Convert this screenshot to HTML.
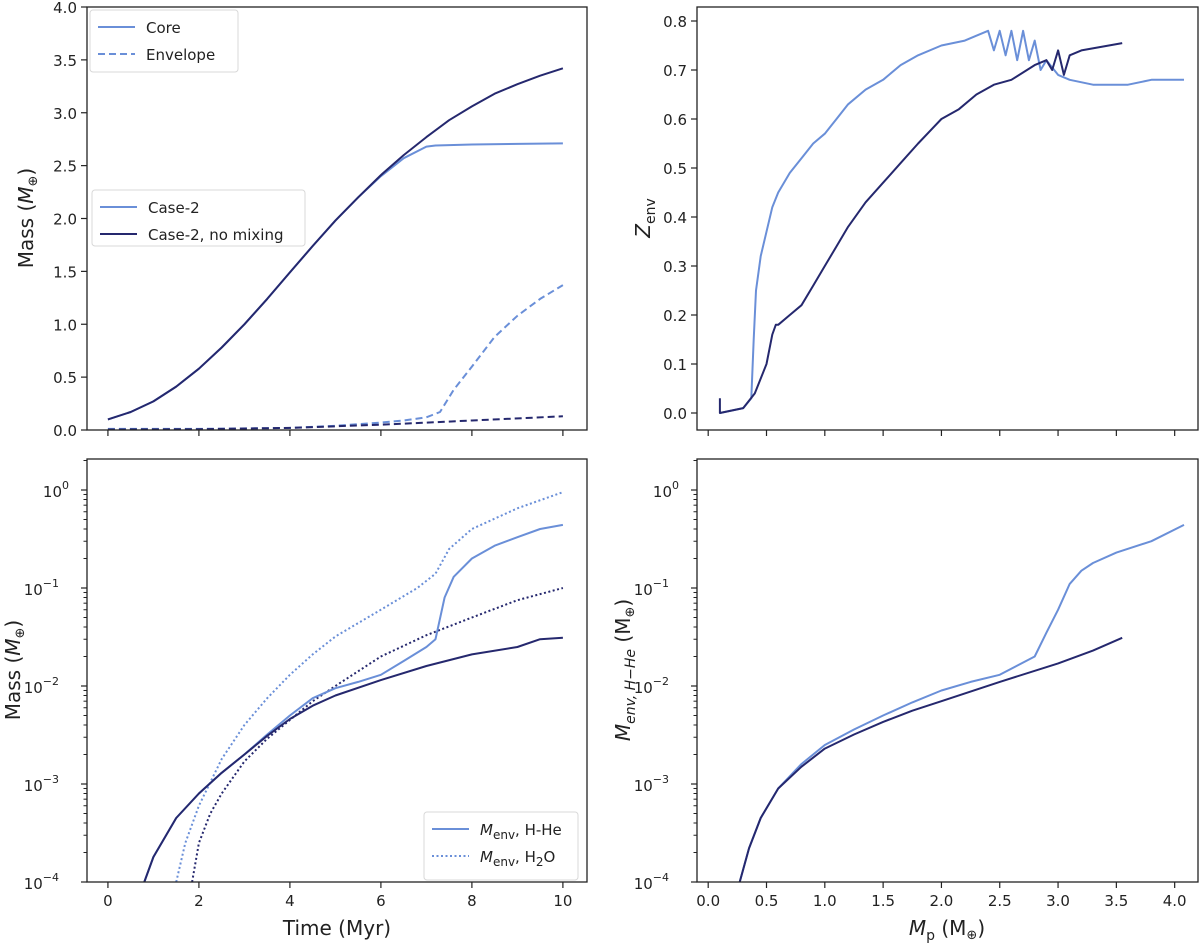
<!DOCTYPE html>
<html><head><meta charset="utf-8"><style>
body{margin:0;background:#fff}
svg{font-family:"DejaVu Sans","Liberation Sans",sans-serif}
</style></head><body>
<svg id="fig" width="1200" height="947" viewBox="0 0 1200 947" xmlns="http://www.w3.org/2000/svg"></svg>
<script>
// ---- data ----
const tCoreDark=[0,0.5,1,1.5,2,2.5,3,3.5,4,4.5,5,5.5,6,6.5,7,7.5,8,8.5,9,9.5,10];
const mCoreDark=[0.1,0.17,0.27,0.41,0.58,0.78,1.0,1.24,1.49,1.74,1.98,2.2,2.41,2.6,2.77,2.93,3.06,3.18,3.27,3.35,3.42];
const tCoreLight=[0,0.5,1,1.5,2,2.5,3,3.5,4,4.5,5,5.5,6,6.5,7,7.2,8,9,10];
const mCoreLight=[0.1,0.17,0.27,0.41,0.58,0.78,1.0,1.24,1.49,1.74,1.98,2.2,2.4,2.57,2.68,2.69,2.7,2.705,2.71];
const tEnvLight=[0,2,4,5,6,6.5,7,7.3,7.6,8,8.5,9,9.5,10];
const mEnvLight=[0.01,0.01,0.02,0.04,0.07,0.09,0.12,0.17,0.38,0.6,0.88,1.08,1.24,1.37];
const tEnvDark=[0,2,4,6,8,10];
const mEnvDark=[0.005,0.008,0.02,0.05,0.09,0.13];

const mpZLight=[0.1,0.3,0.37,0.39,0.41,0.45,0.5,0.55,0.6,0.7,0.8,0.9,1.0,1.1,1.2,1.35,1.5,1.65,1.8,2.0,2.2,2.3,2.4,2.45,2.5,2.55,2.6,2.65,2.7,2.75,2.8,2.85,2.9,3.0,3.1,3.3,3.6,3.8,4.08];
const zLight=[0.0,0.01,0.03,0.15,0.25,0.32,0.37,0.42,0.45,0.49,0.52,0.55,0.57,0.6,0.63,0.66,0.68,0.71,0.73,0.75,0.76,0.77,0.78,0.74,0.78,0.73,0.78,0.72,0.78,0.72,0.76,0.7,0.72,0.69,0.68,0.67,0.67,0.68,0.68];
const mpZDark=[0.1,0.1,0.3,0.4,0.5,0.55,0.58,0.6,0.7,0.8,0.9,1.0,1.1,1.2,1.35,1.5,1.65,1.8,2.0,2.15,2.3,2.45,2.6,2.8,2.9,2.95,3.0,3.05,3.1,3.2,3.55];
const zDark=[0.03,0.0,0.01,0.04,0.1,0.16,0.18,0.18,0.2,0.22,0.26,0.3,0.34,0.38,0.43,0.47,0.51,0.55,0.6,0.62,0.65,0.67,0.68,0.71,0.72,0.7,0.74,0.69,0.73,0.74,0.755];

const tHHeLight=[0.8,1,1.5,2,2.5,3,3.5,4,4.5,5,5.5,6,6.5,7,7.2,7.4,7.6,8,8.5,9,9.5,10];
const mHHeLight=[1e-4,1.8e-4,4.5e-4,8e-4,1.3e-3,2e-3,3.2e-3,5e-3,7.5e-3,9.5e-3,1.1e-2,1.3e-2,1.8e-2,2.5e-2,3e-2,8e-2,1.3e-1,2e-1,2.7e-1,3.3e-1,4e-1,4.4e-1];
const tHHeDark=[0.8,1,1.5,2,2.5,3,3.5,4,4.5,5,6,7,8,9,9.5,10];
const mHHeDark=[1e-4,1.8e-4,4.5e-4,8e-4,1.3e-3,2e-3,3.1e-3,4.6e-3,6.3e-3,8e-3,1.15e-2,1.6e-2,2.1e-2,2.5e-2,3e-2,3.1e-2];
const tH2OLight=[1.5,1.7,2,2.5,3,3.5,4,4.5,5,6,6.8,7.2,7.5,8,9,10];
const mH2OLight=[1e-4,2.5e-4,6e-4,1.8e-3,4e-3,7.5e-3,1.3e-2,2.1e-2,3.2e-2,6e-2,1e-1,1.4e-1,2.5e-1,4e-1,6.5e-1,9.5e-1];
const tH2ODark=[1.85,2,2.25,2.5,3,3.5,4,4.5,5,6,7,8,9,10];
const mH2ODark=[1e-4,2.5e-4,5e-4,8e-4,1.7e-3,2.9e-3,4.5e-3,7e-3,1e-2,2e-2,3.3e-2,5e-2,7.5e-2,1e-1];

const mpELight=[0.27,0.35,0.45,0.6,0.8,1.0,1.25,1.5,1.75,2.0,2.25,2.5,2.8,2.9,3.0,3.1,3.2,3.3,3.5,3.8,4.08];
const eLight=[1e-4,2.2e-4,4.5e-4,9e-4,1.6e-3,2.5e-3,3.6e-3,5e-3,6.8e-3,9e-3,1.1e-2,1.3e-2,2e-2,3.5e-2,6e-2,1.1e-1,1.5e-1,1.8e-1,2.3e-1,3e-1,4.4e-1];
const mpEDark=[0.27,0.35,0.45,0.6,0.8,1.0,1.25,1.5,1.75,2.0,2.5,3.0,3.3,3.55];
const eDark=[1e-4,2.2e-4,4.5e-4,9e-4,1.5e-3,2.3e-3,3.2e-3,4.3e-3,5.6e-3,7e-3,1.1e-2,1.7e-2,2.3e-2,3.1e-2];

const tTicks=[0,2,4,6,8,10];
const mTicks=[0,0.5,1,1.5,2,2.5,3,3.5,4];
const mpTicks=[0,0.5,1,1.5,2,2.5,3,3.5,4];
const zTicks=[0,0.1,0.2,0.3,0.4,0.5,0.6,0.7,0.8];
const logTicks=[-4,-3,-2,-1,0];

const LIGHT="#6a8fd8", DARK="#25286e";
const NS="http://www.w3.org/2000/svg";
const svg=document.getElementById('fig');
function mk(tag,attrs,parent){const e=document.createElementNS(NS,tag);for(const k in attrs)e.setAttribute(k,attrs[k]);(parent||svg).appendChild(e);return e;}
function lin(d0,d1,p0,p1){return v=>p0+(v-d0)/(d1-d0)*(p1-p0);}
function logs(d0,d1,p0,p1){return v=>p0+(Math.log10(v)-d0)/(d1-d0)*(p1-p0);}

const A={
 tl:{x0:87,x1:587,y0:7,y1:430},
 tr:{x0:697,x1:1198,y0:7,y1:430},
 bl:{x0:87,x1:587,y0:459,y1:882},
 br:{x0:697,x1:1198,y0:459,y1:882}
};
const xT=lin(-0.46,10.53,87,587);
const xM=lin(-0.096,4.2,697,1198);
const yM=lin(0,4,430,7);
const yZ=lin(0,0.8,413,21);
const yL=logs(-4,0,882,490);

function clip(id,a){const c=mk('clipPath',{id:id});mk('rect',{x:a.x0,y:a.y0,width:a.x1-a.x0,height:a.y1-a.y0},c);}
clip('ctl',A.tl);clip('ctr',A.tr);clip('cbl',A.bl);clip('cbr',A.br);

function line(xs,ys,fx,fy,col,dash,cl,name){
  const d=xs.map((x,i)=>(i?'L':'M')+fx(x).toFixed(1)+','+fy(ys[i]).toFixed(1)).join('');
  const p=mk('path',{d:d,fill:'none',stroke:col,'stroke-width':2,'stroke-linejoin':'round','clip-path':'url(#'+cl+')'});
  if(dash)p.setAttribute('stroke-dasharray',dash);
  
  
}
function txt(x,y,s,anchor,size,extra){const t=mk('text',Object.assign({x:x,y:y,'text-anchor':anchor,'font-size':size,fill:'#222'},extra||{}));t.innerHTML=s;return t;}

function frame(a,name){const r=mk('rect',{x:a.x0,y:a.y0,width:a.x1-a.x0,height:a.y1-a.y0,fill:'none',stroke:'#222','stroke-width':1.3});
  
  }
function xticks(a,ticks,fx,labels,fmt){ticks.forEach(v=>{const x=fx(v);mk('line',{x1:x,x2:x,y1:a.y1,y2:a.y1+6,stroke:'#222','stroke-width':1.2});
  if(labels){const t=txt(x,a.y1+24,fmt(v),'middle',15);}});}
function yticks(a,ticks,fy,fmt){ticks.forEach(v=>{const y=fy(v);mk('line',{x1:a.x0-6,x2:a.x0,y1:y,y2:y,stroke:'#222','stroke-width':1.2});
  const t=txt(a.x0-10,y+6,fmt(v),'end',15);});}
function logticks(a){logTicks.forEach(e=>{const y=yL(Math.pow(10,e));mk('line',{x1:a.x0-6,x2:a.x0,y1:y,y2:y,stroke:'#222','stroke-width':1.2});
  const sup=(e<0?'\u2212'+(-e):String(e));
  const t=txt(a.x0-(e<0?28:18),y+7,'10<tspan dy="-8" font-size="11">'+sup+'</tspan>','end',15);
  if(e<0)for(let k=2;k<10;k++){const yy=yL(k*Math.pow(10,e));mk('line',{x1:a.x0-3.5,x2:a.x0,y1:yy,y2:yy,stroke:'#222','stroke-width':1});}});
  const yy=yL(2);mk('line',{x1:a.x0-3.5,x2:a.x0,y1:yy,y2:yy,stroke:'#222','stroke-width':1});}

// top-left
line(tEnvLight,mEnvLight,xT,yM,LIGHT,'7,4','ctl','envelope-case2');
line(tEnvDark,mEnvDark,xT,yM,DARK,'7,4','ctl','envelope-no-mixing');
line(tCoreLight,mCoreLight,xT,yM,LIGHT,null,'ctl','core-case2');
line(tCoreDark,mCoreDark,xT,yM,DARK,null,'ctl','core-no-mixing');
frame(A.tl,'top-left-axes');xticks(A.tl,tTicks,xT,false);yticks(A.tl,mTicks,yM,v=>v.toFixed(1));
// top-right
line(mpZLight,zLight,xM,yZ,LIGHT,null,'ctr','zenv-case2');
line(mpZDark,zDark,xM,yZ,DARK,null,'ctr','zenv-no-mixing');
frame(A.tr,'top-right-axes');xticks(A.tr,mpTicks,xM,false);yticks(A.tr,zTicks,yZ,v=>v.toFixed(1));
// bottom-left
line(tH2OLight,mH2OLight,xT,yL,LIGHT,'2,2.5','cbl','h2o-case2');
line(tH2ODark,mH2ODark,xT,yL,DARK,'2,2.5','cbl','h2o-no-mixing');
line(tHHeLight,mHHeLight,xT,yL,LIGHT,null,'cbl','hhe-case2');
line(tHHeDark,mHHeDark,xT,yL,DARK,null,'cbl','hhe-no-mixing');
frame(A.bl,'bottom-left-axes');xticks(A.bl,tTicks,xT,true,v=>String(v));logticks(A.bl);
// bottom-right
line(mpELight,eLight,xM,yL,LIGHT,null,'cbr','menv-hhe-case2');
line(mpEDark,eDark,xM,yL,DARK,null,'cbr','menv-hhe-no-mixing');
frame(A.br,'bottom-right-axes');xticks(A.br,mpTicks,xM,true,v=>v.toFixed(1));logticks(A.br);

// axis labels
let t;
t=txt(0,0,'Mass (<tspan font-style="italic">M</tspan><tspan font-size="13" dy="4">\u2295</tspan><tspan dy="-4">)</tspan>','middle',20,{transform:'translate(33,218) rotate(-90)'});

t=txt(0,0,'Mass (<tspan font-style="italic">M</tspan><tspan font-size="13" dy="4">\u2295</tspan><tspan dy="-4">)</tspan>','middle',20,{transform:'translate(20,670) rotate(-90)'});

t=txt(0,0,'<tspan font-style="italic">Z</tspan><tspan font-size="14" dy="5">env</tspan>','middle',20,{transform:'translate(650,218) rotate(-90)'});

t=txt(0,0,'<tspan font-style="italic">M</tspan><tspan font-size="14" dy="5" font-style="italic">env, H\u2212He</tspan><tspan dy="-5"> (M</tspan><tspan font-size="13" dy="4">\u2295</tspan><tspan dy="-4">)</tspan>','middle',20,{transform:'translate(630,670) rotate(-90)'});

t=txt(337,935,'Time (Myr)','middle',20);
t=txt(947,935,'<tspan font-style="italic">M</tspan><tspan font-size="14" dy="5">p</tspan><tspan dy="-5"> (M</tspan><tspan font-size="13" dy="4">\u2295</tspan><tspan dy="-4">)</tspan>','middle',20);


// legends
function legend(x,y,w,h,items,name){const g=mk('g',{});
  mk('rect',{x:x,y:y,width:w,height:h,rx:3,fill:'#fff',stroke:'#d8d8d8','stroke-width':1},g);
  items.forEach((it,i)=>{const yy=y+17+i*27;const l=mk('line',{x1:x+8,x2:x+45,y1:yy,y2:yy,stroke:it.c,'stroke-width':2},g);if(it.d)l.setAttribute('stroke-dasharray',it.d);
    const tt=mk('text',{x:x+56,y:yy+6,'font-size':15,fill:'#222'},g);tt.innerHTML=it.s;});}
legend(90,10,148,62,[{c:LIGHT,s:'Core'},{c:LIGHT,d:'7,4',s:'Envelope'}],'legend-core-envelope');
legend(92,190,213,56,[{c:LIGHT,s:'Case-2'},{c:DARK,s:'Case-2, no mixing'}],'legend-cases');
legend(424,812,154,68,[{c:LIGHT,s:'<tspan font-style="italic">M</tspan><tspan font-size="12" dy="4">env</tspan><tspan dy="-4">, H-He</tspan>'},{c:LIGHT,d:'2,2.5',s:'<tspan font-style="italic">M</tspan><tspan font-size="12" dy="4">env</tspan><tspan dy="-4">, H</tspan><tspan font-size="12" dy="4">2</tspan><tspan dy="-4">O</tspan>'}],'legend-envelope-components');
</script>
</body></html>
